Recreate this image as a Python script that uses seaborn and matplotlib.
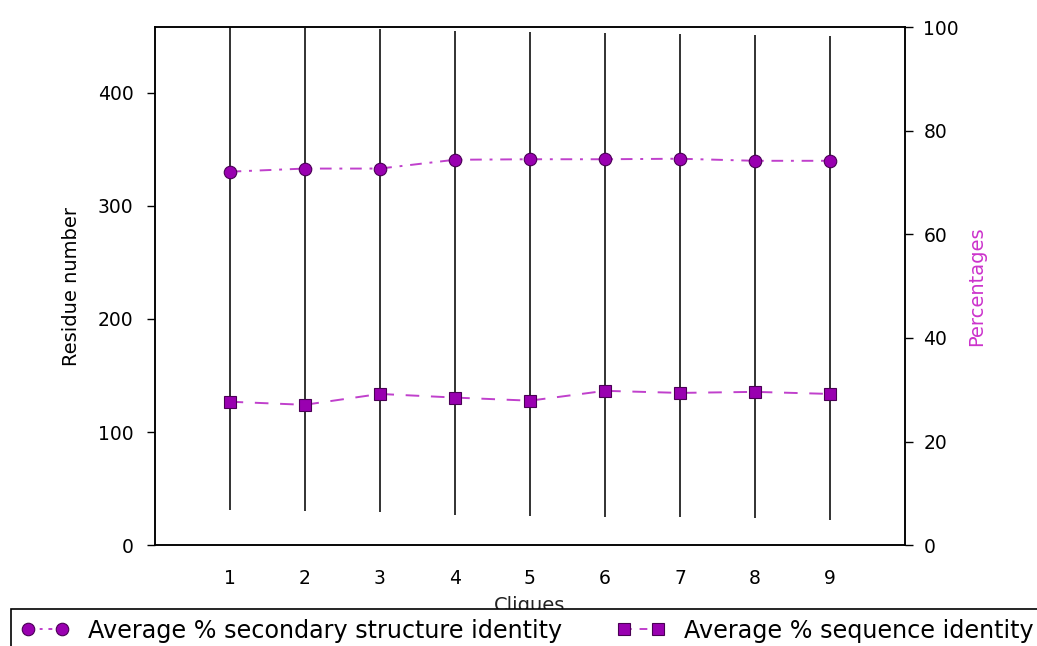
import numpy as np
import pandas as pd
import matplotlib
matplotlib.use("Agg")
import matplotlib.pyplot as plt
import seaborn as sns
from matplotlib.lines import Line2D

cliques = [1, 2, 3, 4, 5, 6, 7, 8, 9]
res_min = [31, 30, 29, 27, 26, 25, 25, 24, 22]
res_max = [458, 457, 456, 455, 454, 453, 452, 451, 450]
ss_identity = [72.1, 72.7, 72.7, 74.4, 74.5, 74.5, 74.6, 74.2, 74.2]
seq_identity = [27.7, 27.1, 29.2, 28.5, 27.9, 29.8, 29.4, 29.6, 29.2]

sns.set_theme(style="white")
plt.rcParams['font.family'] = ['DejaVu Sans']
plt.rcParams['text.color'] = 'black'
plt.rcParams['axes.labelcolor'] = 'black'

fig = plt.figure(figsize=(10.37, 6.46), dpi=100)
ax = fig.add_axes([0.149, 0.156, 0.724, 0.802])
ax2 = ax.twinx()

ax.vlines(cliques, res_min, res_max, color="#222222", lw=1.3, zorder=1)
ax.set_xlim(0, 10)
ax.set_ylim(0, 458)
ax.set_xticks(cliques)
ax.set_yticks([0, 100, 200, 300, 400])
ax.set_xlabel("Cliques", fontsize=14, labelpad=6, color="#222222")
ax.set_ylabel("Residue number", fontsize=14, labelpad=12, color="black")

df = pd.DataFrame({"Clique": cliques, "ss": ss_identity, "seq": seq_identity})
line_col = "#c040cc"
mk_col = "#9900b0"
mk_edge = "#4a0055"
sns.lineplot(data=df, x="Clique", y="ss", ax=ax2, color=line_col, lw=1.4,
             marker="o", markersize=9, markerfacecolor=mk_col, markeredgecolor=mk_edge,
             markeredgewidth=0.8, legend=False)
sns.lineplot(data=df, x="Clique", y="seq", ax=ax2, color=line_col, lw=1.4,
             marker="s", markersize=9, markerfacecolor=mk_col, markeredgecolor=mk_edge,
             markeredgewidth=0.8, legend=False)
ax2.lines[0].set_dashes([6, 4, 1.5, 4])
ax2.lines[1].set_dashes([7, 6])
ax2.set_ylim(0, 100)
ax2.set_yticks([0, 20, 40, 60, 80, 100])
ax2.set_ylabel("Percentages", color="#cc33cc", fontsize=14, labelpad=6)
ax2.set_xlabel("")

for a in (ax, ax2):
    for s in a.spines.values():
        s.set_color("black")
        s.set_linewidth(1.1)
    a.tick_params(axis="both", direction="out", length=6, width=1, color="black",
                  labelsize=13.5, labelcolor="black", pad=9)
    a.grid(False)
ax.tick_params(axis="x", pad=11)
ax2.tick_params(axis="y", pad=7)

h1 = Line2D([], [], color=line_col, lw=1.4, dashes=[2, 4, 1.5, 3], marker="o", markersize=9,
            markerfacecolor=mk_col, markeredgecolor=mk_edge, markeredgewidth=0.8)
h2 = Line2D([], [], color=line_col, lw=1.4, dashes=[4, 4], marker="s", markersize=9,
            markerfacecolor=mk_col, markeredgecolor=mk_edge, markeredgewidth=0.8)
leg = fig.legend([h1, h2], ["Average % secondary structure identity", "Average % sequence identity"],
                 loc="upper left", bbox_to_anchor=(0.011, 0.057),
                 ncol=2, numpoints=2, fontsize=17.2, frameon=True, fancybox=False,
                 handlelength=2.0, handletextpad=0.8, columnspacing=2.3,
                 borderpad=0.4, borderaxespad=0, labelcolor="black")
leg.get_frame().set_edgecolor("black")
leg.get_frame().set_linewidth(1.2)
leg.get_frame().set_alpha(1)

fig.savefig("out.png", dpi=100)
